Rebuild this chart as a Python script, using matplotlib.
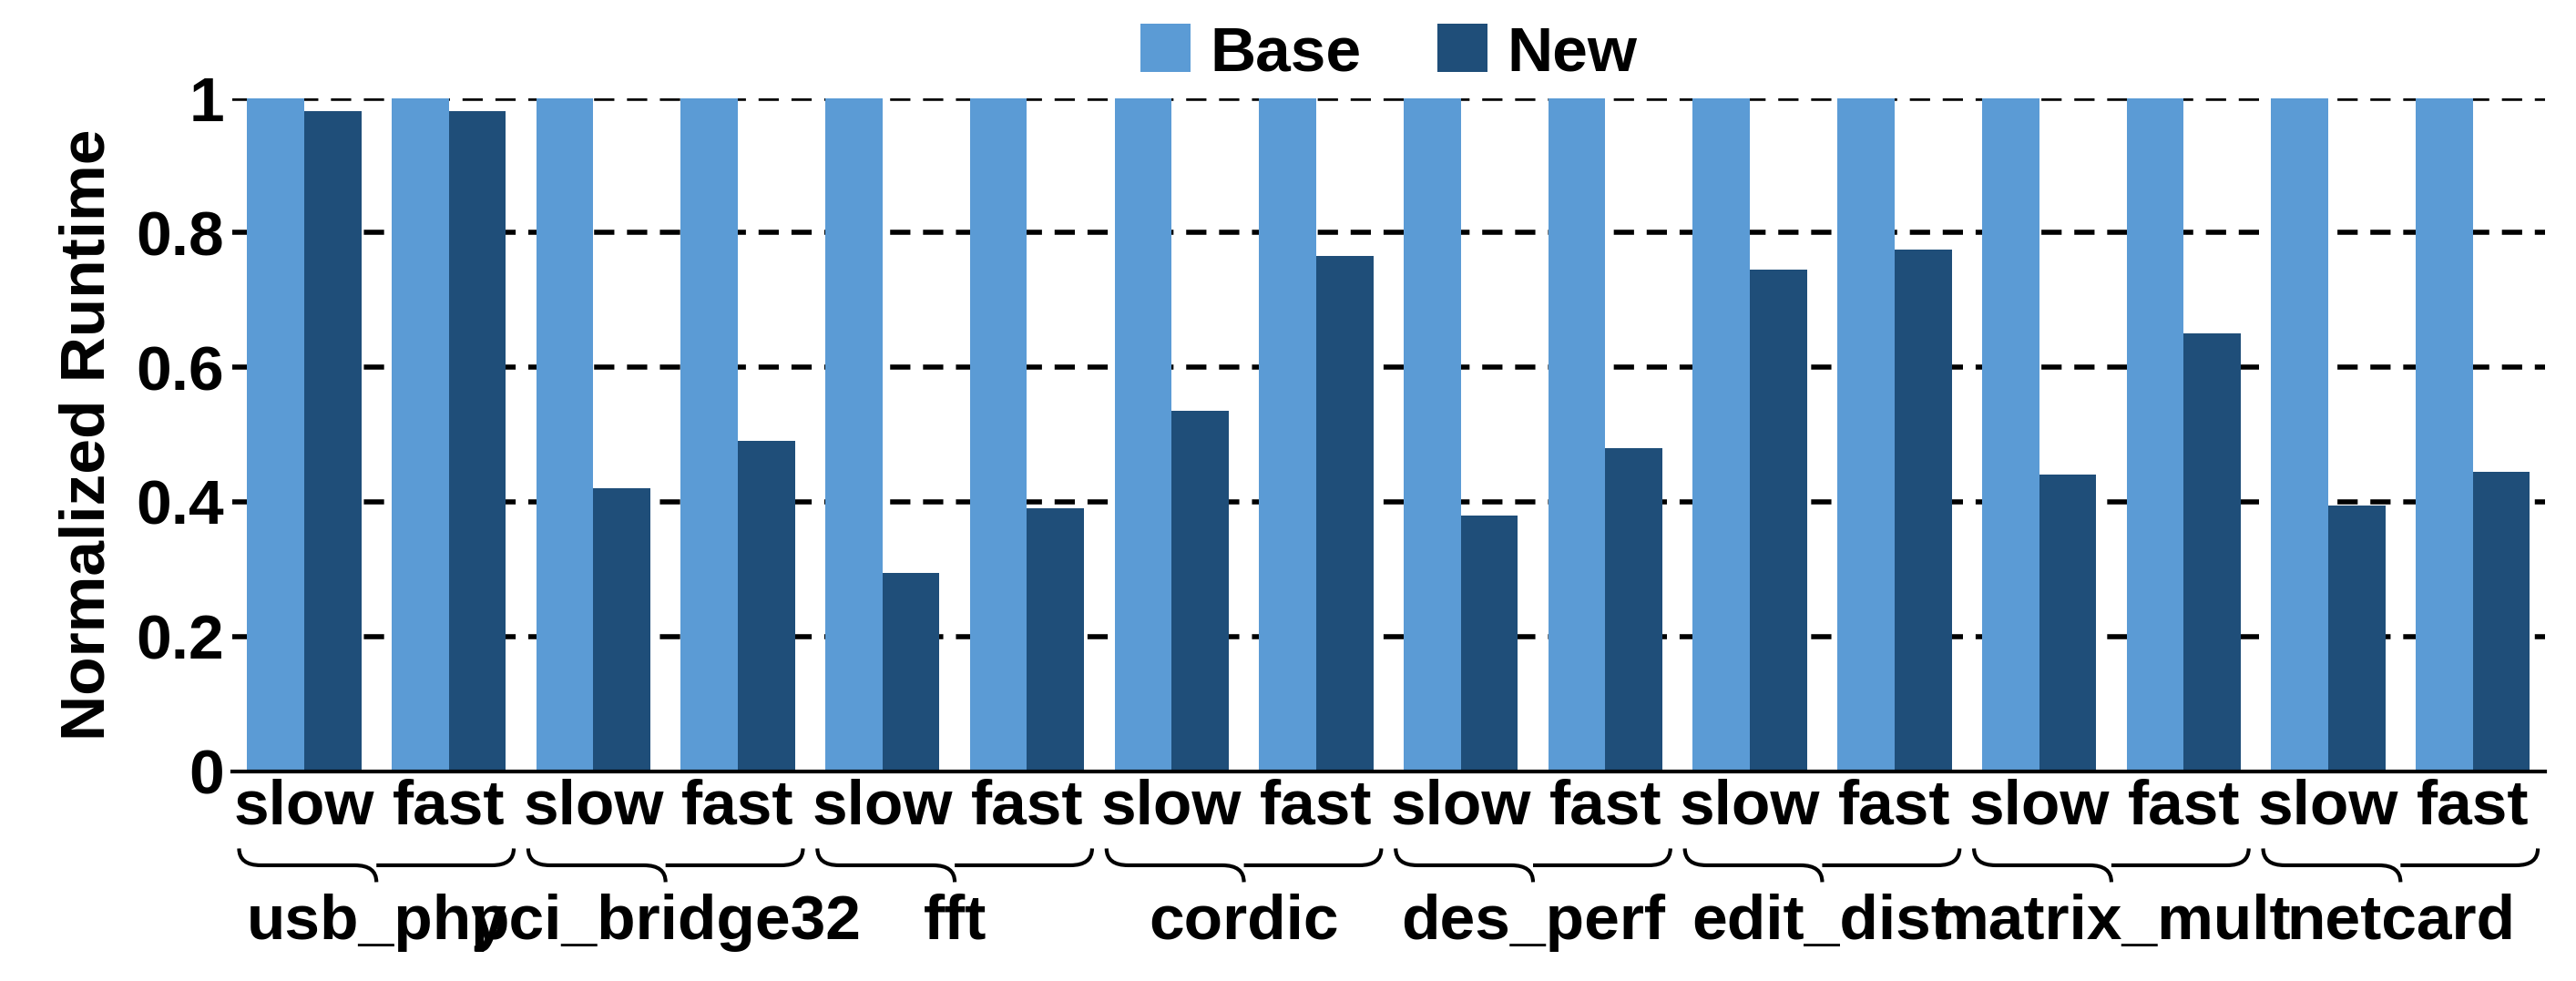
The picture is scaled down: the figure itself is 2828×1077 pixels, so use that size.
import matplotlib
matplotlib.use("Agg")
import matplotlib.pyplot as plt
import numpy as np
from matplotlib.path import Path
from matplotlib.patches import PathPatch
import matplotlib.transforms as mtransforms

groups = ["usb_phy", "pci_bridge32", "fft", "cordic", "des_perf", "edit_dist", "matrix_mult", "netcard"]
modes = ["slow", "fast"]
base = [1.0] * 16
new = [0.98, 0.98, 0.42, 0.49, 0.295, 0.39, 0.535, 0.765, 0.38, 0.48, 0.745, 0.775, 0.44, 0.65, 0.395, 0.445]
yticks = [0, 0.2, 0.4, 0.6, 0.8, 1.0]
yticklabels = ["0", "0.2", "0.4", "0.6", "0.8", "1"]

plt.rcParams['font.family'] = ['Liberation Sans', 'DejaVu Sans']
plt.rcParams['font.weight'] = 'bold'
FS = 50
fig = plt.figure(figsize=(28.28, 10.77), dpi=100)
ax = fig.add_axes([0.09, 0.214, 0.898, 0.686])
x = np.arange(16)
w = 0.395
ax.bar(x - w/2, base, w, color="#5b9bd5", label="Base", zorder=2)
ax.bar(x + w/2, new, w, color="#1f4e79", label="New", zorder=2)
ax.set_ylim(0, 1)
ax.set_xlim(-0.5, 15.5)
ax.set_yticks(yticks)
ax.set_yticklabels(yticklabels, fontsize=FS, fontweight='bold')
for yv in yticks[1:]:
    ax.axhline(yv, color="black", ls=(0, (4, 2.5)), lw=4, zorder=1)
ax.set_xticks(x)
ax.set_xticklabels([modes[i % 2] for i in range(16)], fontsize=FS, fontweight='bold')
ax.tick_params(axis='both', length=0, pad=6)
for s in ["top", "right", "left"]:
    ax.spines[s].set_visible(False)
ax.spines["bottom"].set_linewidth(3)
ax.set_ylabel("Normalized Runtime", fontsize=FS, fontweight='bold', labelpad=15)

trans = mtransforms.blended_transform_factory(ax.transData, ax.transAxes)
for g, name in enumerate(groups):
    x0, x1 = 2*g - 0.45, 2*g + 1.45
    xm = (x0 + x1) / 2
    yt, ym, yb = -0.115, -0.14, -0.165
    verts = [(x0, yt), (x0, ym), (x0 + 0.15, ym), (xm - 0.15, ym), (xm, ym), (xm, yb),
             (xm, ym), (xm + 0.15, ym), (x1 - 0.15, ym), (x1, ym), (x1, yt)]
    codes = [Path.MOVETO, Path.CURVE3, Path.CURVE3, Path.LINETO, Path.CURVE3, Path.CURVE3,
             Path.MOVETO, Path.CURVE3, Path.LINETO, Path.CURVE3, Path.CURVE3]
    ax.add_patch(PathPatch(Path(verts, codes), transform=trans, fill=False, lw=3,
                           color="black", clip_on=False))
    ax.text(xm, -0.225, name, transform=trans, ha='center', va='center',
            fontsize=FS, fontweight='bold')

ax.legend(loc='lower center', bbox_to_anchor=(0.5, 0.985), ncol=2, frameon=False,
          fontsize=FS, handlelength=0.8, handleheight=0.8, columnspacing=1.2, handletextpad=0.3,
          borderaxespad=0)
fig.savefig("out.png", dpi=100)
